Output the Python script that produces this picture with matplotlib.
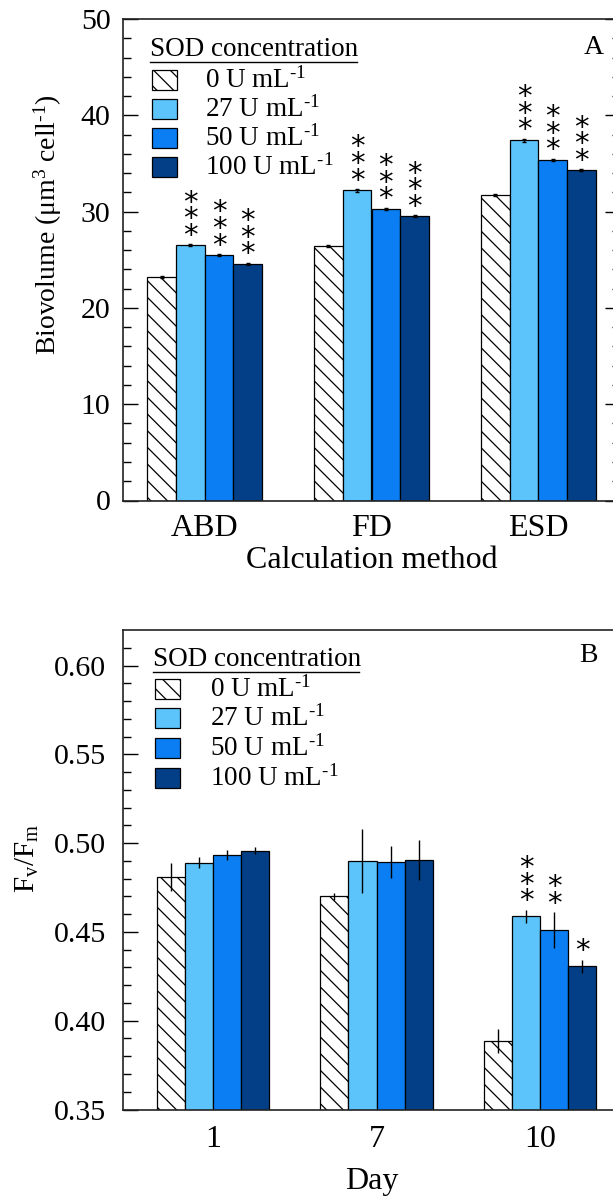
import matplotlib
matplotlib.use("Agg")
import matplotlib.pyplot as plt
from matplotlib.patches import Rectangle
from matplotlib.lines import Line2D
import numpy as np

plt.rcParams['font.family'] = ['Liberation Serif', 'DejaVu Serif']
plt.rcParams['mathtext.fontset'] = 'custom'
plt.rcParams['mathtext.rm'] = 'Liberation Serif'
plt.rcParams['mathtext.it'] = 'Liberation Serif:italic'
plt.rcParams['hatch.linewidth'] = 0.9

# ---------------- data ----------------
series_labels = ["0 U mL$^{\u20101}$", "27 U mL$^{\u20101}$", "50 U mL$^{\u20101}$", "100 U mL$^{\u20101}$"]
series_colors = ["white", "#5cc4fa", "#0a7ef2", "#033f86"]
series_hatch = ["\\\\", None, None, None]

methods = ["ABD", "FD", "ESD"]
bio_0 = [23.2, 26.4, 31.7]
bio_27 = [26.5, 32.2, 37.4]
bio_50 = [25.5, 30.3, 35.4]
bio_100 = [24.6, 29.5, 34.3]
bio_err_0 = [0.1, 0.1, 0.1]
bio_err_27 = [0.1, 0.15, 0.15]
bio_err_50 = [0.1, 0.1, 0.1]
bio_err_100 = [0.1, 0.1, 0.1]
bio_stars_0 = [0, 0, 0]
bio_stars_27 = [3, 3, 3]
bio_stars_50 = [3, 3, 3]
bio_stars_100 = [3, 3, 3]

days = ["1", "7", "10"]
fvfm_0 = [0.481, 0.470, 0.3885]
fvfm_27 = [0.489, 0.490, 0.4588]
fvfm_50 = [0.4934, 0.4895, 0.451]
fvfm_100 = [0.4957, 0.4905, 0.4307]
fvfm_err_0 = [0.008, 0.002, 0.0066]
fvfm_err_27 = [0.003, 0.018, 0.0036]
fvfm_err_50 = [0.003, 0.009, 0.010]
fvfm_err_100 = [0.002, 0.011, 0.0037]
fvfm_stars_0 = [0, 0, 0]
fvfm_stars_27 = [0, 0, 3]
fvfm_stars_50 = [0, 0, 2]
fvfm_stars_100 = [0, 0, 1]

W, H = 613, 1201
fig = plt.figure(figsize=(W / 100, H / 100), dpi=100)


def fx(px):
    return px / W


def fy(py):
    return 1 - py / H


def style_axes(ax):
    for s in ax.spines.values():
        s.set_linewidth(1.2)
        s.set_color("#222222")
    ax.tick_params(axis='y', which='major', direction='in', length=11, width=1.0,
                   labelsize=21.5, pad=9, right=True, left=True)
    ax.tick_params(axis='y', which='minor', direction='in', length=5.5, width=1.0,
                   right=True, left=True)
    ax.tick_params(axis='x', which='both', length=0, labelsize=23, pad=10)


def draw_panel(ax, cats, vals, errs, stars, capsize):
    x = np.arange(len(cats))
    bw = 0.172
    for i in range(4):
        pos = x + (i - 1.5) * bw
        ax.bar(pos, vals[i], width=bw, color=series_colors[i], edgecolor="black",
               linewidth=0.9, hatch=series_hatch[i], zorder=2)
        ax.errorbar(pos, vals[i], yerr=errs[i], fmt='none', ecolor='black',
                    elinewidth=1.0, capsize=capsize, capthick=1.0, zorder=3)
        for j in range(len(cats)):
            n = stars[i][j]
            if n > 0:
                ax.annotate("\n".join(["*"] * n), xy=(pos[j], vals[i][j] + errs[i][j]),
                            xytext=(0, -4), textcoords='offset points',
                            ha='center', va='bottom', fontsize=21, linespacing=0.48,
                            family='DejaVu Sans', zorder=4)
    ax.set_xticks(x)
    ax.set_xticklabels(cats)


def draw_legend(x0, y_title, rows_y, box_x, text_x, underline_x1, underline_y):
    fig.text(fx(x0), fy(y_title), "SOD concentration", fontsize=19.5, ha='left', va='center')
    fig.add_artist(Line2D([fx(x0), fx(underline_x1)], [fy(underline_y), fy(underline_y)],
                          transform=fig.transFigure, color='black', lw=1.0))
    for i in range(4):
        yc = rows_y[i]
        fig.add_artist(Rectangle((fx(box_x), fy(yc + 10)), 25 / W, 20 / H,
                                 transform=fig.transFigure, facecolor=series_colors[i],
                                 edgecolor='black', linewidth=0.9, hatch=series_hatch[i]))
        fig.text(fx(text_x), fy(yc), series_labels[i], fontsize=19.5, ha='left', va='center')


# ---------------- panel A ----------------
ax1 = fig.add_axes([fx(123), fy(500.5), (620 - 123) / W, (500.5 - 19) / H])
draw_panel(ax1, methods, [bio_0, bio_27, bio_50, bio_100],
           [bio_err_0, bio_err_27, bio_err_50, bio_err_100],
           [bio_stars_0, bio_stars_27, bio_stars_50, bio_stars_100], capsize=1.5)
ax1.set_xlim(-0.49, 2.49)
ax1.set_ylim(0, 50)
ax1.set_yticks([0, 10, 20, 30, 40, 50])
ax1.set_yticks(np.arange(0, 50, 2), minor=True)
style_axes(ax1)
fig.text(fx(594), fy(47), "A", fontsize=20, ha='center', va='center')
fig.text(fx(48), fy(225), "Biovolume (μm$^{3}$ cell$^{\u20101}$)", rotation=90,
         fontsize=20, ha='center', va='center')
fig.text(fx(372), fy(560), "Calculation method", fontsize=23, ha='center', va='center')
draw_legend(150, 49, [80, 109, 138, 167], 152, 205, 357, 62)

# ---------------- panel B ----------------
ax2 = fig.add_axes([fx(123), fy(1109.5), (630 - 123) / W, (1109.5 - 630) / H])
draw_panel(ax2, days, [fvfm_0, fvfm_27, fvfm_50, fvfm_100],
           [fvfm_err_0, fvfm_err_27, fvfm_err_50, fvfm_err_100],
           [fvfm_stars_0, fvfm_stars_27, fvfm_stars_50, fvfm_stars_100], capsize=0)
ax2.set_xlim(-0.55, 2.55)
ax2.set_ylim(0.35, 0.62)
ax2.set_yticks([0.35, 0.40, 0.45, 0.50, 0.55, 0.60])
ax2.set_yticklabels(["0.35", "0.40", "0.45", "0.50", "0.55", "0.60"])
ax2.set_yticks(np.arange(0.35, 0.62, 0.01), minor=True)
style_axes(ax2)
ax2.tick_params(axis='y', pad=12)
ax2.tick_params(axis='x', pad=11)
fig.text(fx(588), fy(655), "B", fontsize=20, ha='center', va='center')
fig.text(fx(27), fy(858), "F$_\\mathrm{v}$/F$_\\mathrm{m}$", rotation=90,
         fontsize=21, ha='center', va='center')
fig.text(fx(372), fy(1181), "Day", fontsize=23, ha='center', va='center')
draw_legend(153, 660, [689, 718, 748, 778], 155, 210, 359, 672)

fig.savefig("out.png", dpi=100)
